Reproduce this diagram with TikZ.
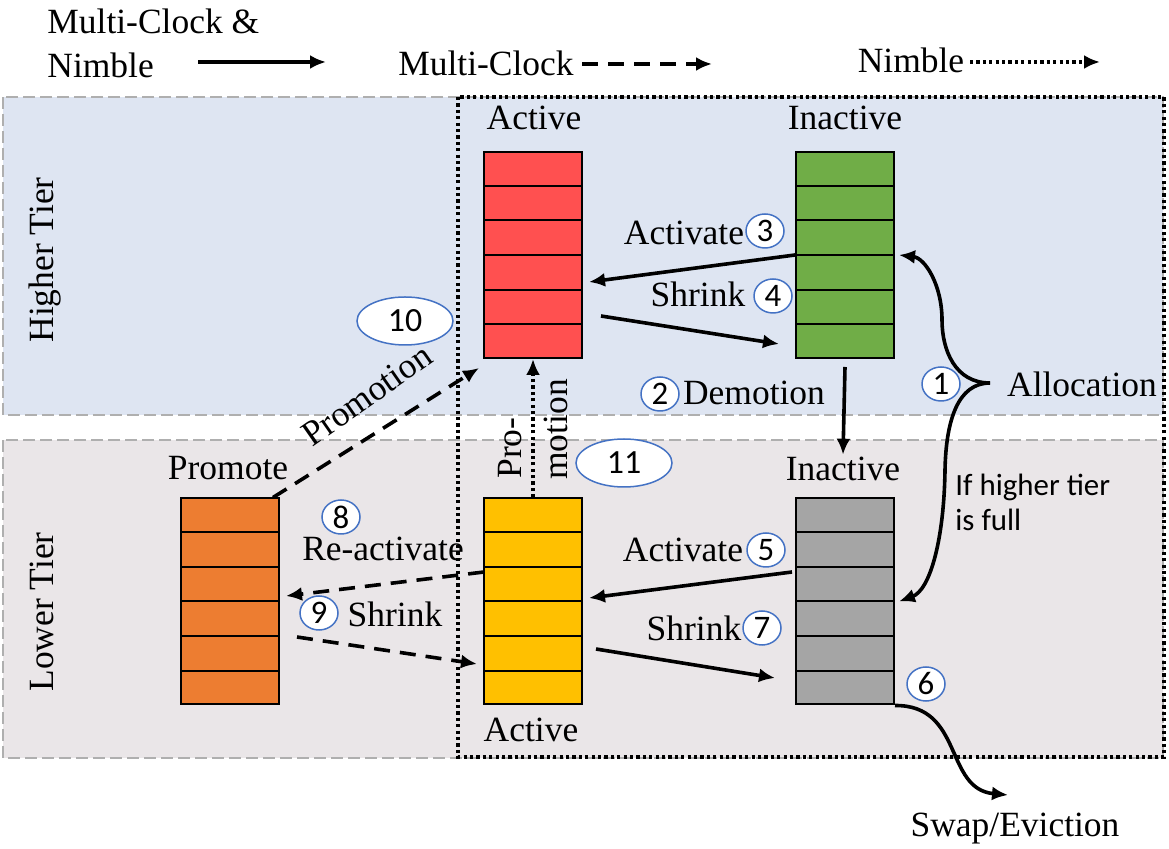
\documentclass[tikz,border=0pt]{standalone}
\usepackage{fontspec}
\setmainfont{Liberation Serif}
\newfontfamily\calibri{Carlito}
\usepackage{tikz}
\usetikzlibrary{shapes,arrows.meta,calc}

\definecolor{hiblue}{RGB}{222,229,242}
\definecolor{logray}{RGB}{234,230,232}
\definecolor{tiergray}{RGB}{175,175,175}
\definecolor{numblue}{RGB}{68,114,196}
\definecolor{actred}{RGB}{255,80,80}
\definecolor{inactgreen}{RGB}{112,173,71}
\definecolor{inactgray}{RGB}{165,165,165}
\definecolor{actyellow}{RGB}{255,192,0}
\definecolor{promorange}{RGB}{237,125,49}

\begin{document}
\begin{tikzpicture}[>={Latex[length=8bp,width=7bp]},font=\fontsize{17.8}{22}\selectfont,
  stack/.style={draw,line width=1bp,minimum width=49bp,minimum height=103bp,inner sep=0pt},
  tier/.style={draw=tiergray,dash pattern=on 6bp off 2.5bp,line width=1.3bp},
  lbl/.style={inner sep=1bp},
  num/.style={ellipse,draw=numblue,fill=white,line width=0.75bp,inner sep=0pt,
    minimum width=19bp,minimum height=17bp,font=\calibri\fontsize{16.5}{16.5}\selectfont},
  bignum/.style={num,minimum width=48bp,minimum height=24bp,font=\calibri\fontsize{17}{17}\selectfont},
  flow/.style={->,line width=1.8bp},
  mcflow/.style={flow,dash pattern=on 8bp off 5bp},
  nbflow/.style={flow,line width=1.6bp,dash pattern=on 1.6bp off 1.6bp},
]
\useasboundingbox (0bp,0bp) rectangle (584.5bp,424.5bp);
%% tiers
\draw [tier,fill=hiblue] (1.5bp,376bp) rectangle (581.5bp,217bp);
\draw [tier,fill=logray] (1.5bp,204.5bp) rectangle (581.5bp,45.5bp);
\draw [line width=1.6bp,dash pattern=on 1.6bp off 1.6bp] (229bp,376bp) rectangle (582bp,46bp);
\node (hiTier) at (22.5bp,294.5bp) [lbl,rotate=90] {Higher Tier};
\node (loTier) at (21bp,118.5bp) [lbl,rotate=90] {Lower Tier};
%% legend
\node (lgBoth) at (22.5bp,403bp) [lbl,anchor=west,align=left] {Multi-Clock \&\\Nimble};
\node (lgMC) at (243bp,393bp) [lbl] {Multi-Clock};
\node (lgNB) at (455.5bp,394.5bp) [lbl] {Nimble};
\coordinate (lgA1) at (99bp,393.5bp);
\coordinate (lgA2) at (163bp,393.5bp);
\coordinate (lgB1) at (291bp,392.5bp);
\coordinate (lgB2) at (356bp,392.5bp);
\coordinate (lgC1) at (485bp,393.5bp);
\coordinate (lgC2) at (550bp,393.5bp);
\draw [flow] (lgA1) -- (lgA2);
\draw [mcflow] (lgB1) -- (lgB2);
\draw [nbflow] (lgC1) -- (lgC2);
%% lists
\node (act1) at (266.5bp,297bp) [stack,fill=actred] {};
\node (inact1) at (422.5bp,297bp) [stack,fill=inactgreen] {};
\node (act2) at (266.5bp,123.75bp) [stack,fill=actyellow] {};
\node (inact2) at (422.5bp,123.75bp) [stack,fill=inactgray] {};
\node (prom) at (115bp,123.75bp) [stack,fill=promorange] {};
\foreach \s in {act1,inact1,act2,inact2,prom}
  \foreach \i in {1,...,5}
    \draw [line width=1bp] ($(\s.north west)!\i/6!(\s.south west)$) -- ($(\s.north east)!\i/6!(\s.south east)$);
\node (lAct1) at (267bp,365.5bp) [lbl] {Active};
\node (lInact1) at (422.5bp,365.5bp) [lbl] {Inactive};
\node (lInact2) at (421.5bp,190bp) [lbl] {Inactive};
\node (lAct2) at (265.5bp,59.5bp) [lbl] {Active};
\node (lProm) at (114bp,190.5bp) [lbl] {Promote};
%% arrows
\draw [flow] (inact1.west) -- ([shift={(3bp,-13.5bp)}]act1.east);
\draw [flow] ([shift={(9bp,-30.5bp)}]act1.east) -- ([shift={(-8bp,-44.5bp)}]inact1.west);
\draw [flow] ([yshift=-4bp]inact1.south) -- (lInact2.north);
\draw [flow] ([shift={(-1.5bp,14.75bp)}]inact2.west) -- ([shift={(3bp,1.75bp)}]act2.east);
\draw [flow] ([shift={(6.5bp,-23.75bp)}]act2.east) -- ([shift={(-10bp,-38.25bp)}]inact2.west);
\draw [nbflow] (act2.north) -- (act1.south);
\draw [mcflow] ([xshift=-3.5bp]prom.north east) -- ([shift={(-2bp,-4.5bp)}]act1.south west);
\draw [mcflow] ([shift={(0.5bp,14.75bp)}]act2.west) -- ([shift={(3bp,2.75bp)}]prom.east);
\draw [mcflow] ([shift={(8.5bp,-17.75bp)}]prom.east) -- ([shift={(-3bp,-31.25bp)}]act2.west);
\coordinate (allocTip) at (495bp,233bp);
\draw [flow] (allocTip) ..controls (477.5bp,233bp) and (471bp,249.5bp) .. (471bp,264.5bp)
  ..controls (471bp,282bp) and (462.5bp,295.5bp) .. ([xshift=2bp]inact1.east);
\draw [flow] (allocTip) ..controls (479bp,233bp) and (473bp,214.5bp) .. (472.5bp,189.5bp)
  ..controls (472bp,154.5bp) and (465bp,129.5bp) .. ([xshift=2bp]inact2.east);
\coordinate (swapEnd) at (504bp,27bp);
\draw [flow] (inact2.south east) ..controls (482bp,72bp) and (472bp,30bp) .. (swapEnd);
%% labels
\node (tAct3) at (342bp,308bp) [lbl] {Activate};
\node (tShr4) at (349bp,277.5bp) [lbl] {Shrink};
\node (tDem) at (377bp,228bp) [lbl] {Demotion};
\node (tAct5) at (341.5bp,149.5bp) [lbl] {Activate};
\node (tShr7) at (347bp,110.5bp) [lbl] {Shrink};
\node (tReact) at (191.5bp,150bp) [lbl] {Re-activate};
\node (tShr9) at (197.5bp,117.5bp) [lbl] {Shrink};
\node (tProm) at (183.5bp,227bp) [lbl,rotate=35] {Promotion};
\node (tPro) at (255bp,184bp) [lbl,rotate=90,anchor=west] {Pro-};
\node (tMotion) at (278bp,183.5bp) [lbl,rotate=90,anchor=west] {motion};
\node (tAlloc) at (541bp,232.5bp) [lbl] {Allocation};
\node (tFull) at (476.5bp,173.5bp) [lbl,anchor=west,align=left,font=\calibri\fontsize{15.5}{17.5}\selectfont] {If higher tier\\is full};
\node (tSwap) at (507.5bp,10bp) [lbl] {Swap/Eviction};
%% step numbers
\node (n1) at (470.5bp,232.5bp) [num] {1};
\node (n2) at (330bp,227.5bp) [num] {2};
\node (n3) at (382.5bp,309bp) [num] {3};
\node (n4) at (386.5bp,276.5bp) [num] {4};
\node (n5) at (383bp,149.5bp) [num] {5};
\node (n6) at (463bp,82.5bp) [num] {6};
\node (n7) at (381bp,110.5bp) [num] {7};
\node (n8) at (170.5bp,166bp) [num] {8};
\node (n9) at (159.5bp,118bp) [num] {9};
\node (n10) at (202.5bp,264bp) [bignum] {10};
\node (n11) at (312bp,193bp) [bignum] {11};
%
\end{tikzpicture}
\end{document}
